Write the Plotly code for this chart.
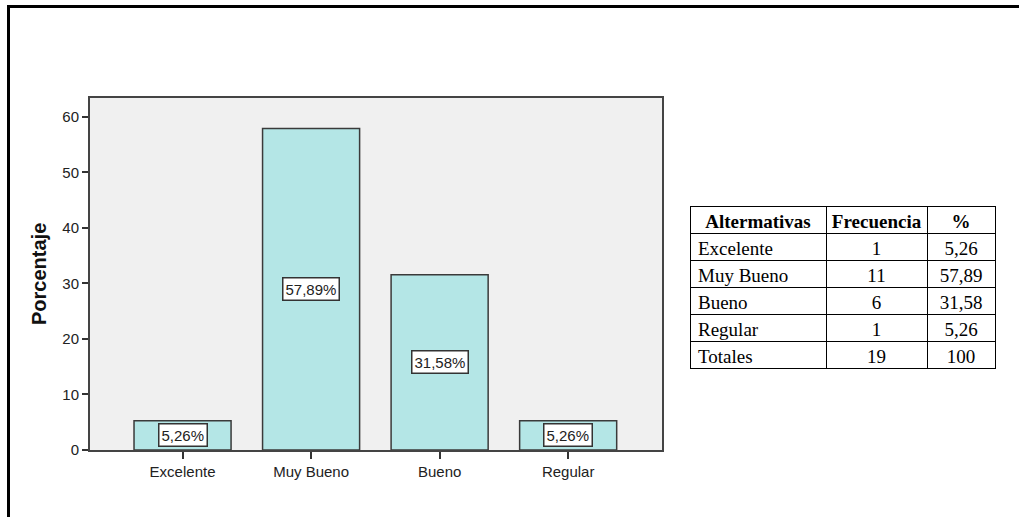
import plotly.graph_objects as go

# ---- data ----
categorias = ["Excelente", "Muy Bueno", "Bueno", "Regular"]
porcentajes = [5.26, 57.89, 31.58, 5.26]
frecuencias = [1, 11, 6, 1]
total_frecuencia = 19
total_porcentaje = 100
y_ticks = [0, 10, 20, 30, 40, 50, 60]
tabla_encabezados = ["Altermativas", "Frecuencia", "%"]


def fmt(v):
    return f"{v:.2f}".replace(".", ",")


W, H = 1019, 525      # photographed page is squeezed to 517 px tall
REF_H = 517
px = lambda x: x / W
py = lambda y: 1 - y / REF_H

fig = go.Figure()

fig.add_trace(go.Bar(
    x=categorias,
    y=porcentajes,
    width=0.755,
    marker=dict(color="#B4E6E6", line=dict(color="#3a3a3a", width=1.5)),
    hoverinfo="x+y",
    showlegend=False,
))

# value labels (boxed), centered at half height
for c, v in zip(categorias, porcentajes):
    fig.add_annotation(
        x=c, y=v / 2, xref="x", yref="y",
        text=fmt(v) + "%", showarrow=False,
        font=dict(family="Arial", size=15, color="#222"),
        bgcolor="white", bordercolor="#333", borderwidth=1.5, borderpad=2,
    )

# table
col1 = categorias + ["Totales"]
col2 = [str(f) for f in frecuencias] + [str(total_frecuencia)]
col3 = [fmt(p) for p in porcentajes] + [str(total_porcentaje)]

fig.add_trace(go.Table(
    domain=dict(x=[px(690), px(995)], y=[0.05, py(206)]),
    columnwidth=[136, 101, 68],
    header=dict(
        values=tabla_encabezados,
        align="center",
        fill_color="white",
        line=dict(color="black", width=1),
        font=dict(family="Liberation Serif", size=19, color="black", weight="bold"),
        height=27,
    ),
    cells=dict(
        values=[col1, col2, col3],
        align=["left", "center", "center"],
        fill_color="white",
        line=dict(color="black", width=1),
        font=dict(family="Liberation Serif", size=19, color="black"),
        height=27,
    ),
))

# y-axis title
fig.add_annotation(
    x=px(39), y=py(274), xref="paper", yref="paper",
    xanchor="center", yanchor="middle",
    text="<b>Porcentaje</b>", textangle=-90, showarrow=False,
    font=dict(family="Arial", size=20, color="#111"),
)

# outer frame (left and top lines)
fig.add_shape(type="line", xref="paper", yref="paper",
              x0=px(8.5), x1=px(8.5), y0=0, y1=py(5.5),
              line=dict(color="black", width=3))
fig.add_shape(type="line", xref="paper", yref="paper",
              x0=px(7), x1=1, y0=py(6.5), y1=py(6.5),
              line=dict(color="black", width=3))

fig.update_layout(
    width=W, height=H, autosize=False,
    margin=dict(l=0, r=0, t=0, b=0),
    paper_bgcolor="white",
    plot_bgcolor="#F0F0F0",
    bargap=0.2,
    xaxis=dict(
        domain=[px(90), px(662)],
        type="category",
        range=[-0.72, 3.73],
        showline=True, linecolor="#444", linewidth=2, mirror=True,
        ticks="outside", ticklen=7, tickcolor="#333", tickwidth=2,
        showgrid=False,
        tickfont=dict(family="Arial", size=15, color="#222"),
    ),
    yaxis=dict(
        domain=[py(450), py(98)],
        range=[0, 63.4],
        tickvals=y_ticks,
        showline=True, linecolor="#444", linewidth=2, mirror=True,
        ticks="outside", ticklen=6, tickcolor="#333", tickwidth=2,
        showgrid=False, zeroline=False,
        tickfont=dict(family="Arial", size=15, color="#222"),
    ),
)

fig.write_html(
    "out.html",
    config={"displayModeBar": False, "responsive": False},
    post_script="document.documentElement.style.margin='0';document.body.style.margin='0';document.body.style.overflow='hidden';",
)
